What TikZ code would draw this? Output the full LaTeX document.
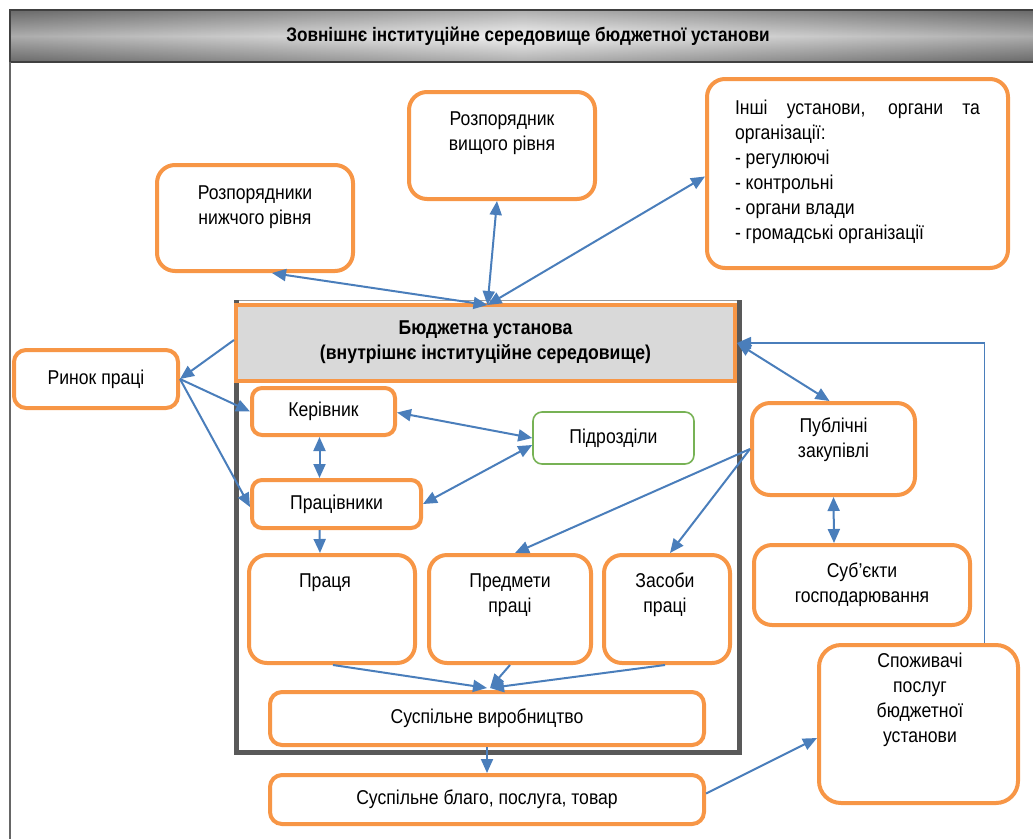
\documentclass[tikz,border=0pt]{standalone}
\usepackage{fontspec}
\setmainfont{Liberation Sans}[FakeStretch=0.88]
\usetikzlibrary{arrows.meta,calc}
\definecolor{orng}{HTML}{F79646}
\definecolor{blu}{HTML}{4A7EBB}
\definecolor{grn}{HTML}{77B255}
\definecolor{hdrfill}{HTML}{D9D9D9}
\definecolor{frm}{HTML}{595959}
\definecolor{ttl}{HTML}{404040}
\begin{document}
\begin{tikzpicture}[x=1pt,y=-1pt,
  font=\fontsize{20}{25}\selectfont,
  obox/.style={draw=orng, line width=4pt, rounded corners=#1, fill=white, inner sep=0pt, align=center},
  obox/.default=18pt,
  gbox/.style={draw=grn, line width=1.6pt, rounded corners=9pt, fill=white, inner sep=0pt},
  txt/.style={align=center, inner sep=0pt},
  conn/.style={draw=blu, line width=2pt},
  arr/.style={conn, -{Triangle[length=14pt,width=12pt]}},
  darr/.style={conn, {Triangle[length=14pt,width=12pt]}-{Triangle[length=14pt,width=12pt]}},
  sarr/.style={draw=blu, line width=1.4pt, -{Triangle[length=14pt,width=12pt]}}
]
\useasboundingbox (0,0) rectangle (1033,839);
% title bar
\shade[left color=black!50, right color=black!50, middle color=black!8] (10,10) rectangle (1033,62);
\shade[top color=black!75, bottom color=black!75, middle color=white, opacity=0.35] (10,10) rectangle (1033,62);
\draw[ttl, line width=2pt] (1033,10) -- (10,10) -- (10,62) -- (1033,62);
\draw[black!60, line width=1.4pt] (10,62) -- (10,839);
\node[txt, font=\bfseries\fontsize{19.5}{23}\selectfont] (title) at (528,36) {Зовнішнє інституційне середовище бюджетної установи};

% inner frame of the institution
\draw[black!40, line width=1pt] (236,300) -- (739,300);
\draw[frm, line width=5pt] (236,300) -- (236,752) -- (739,752) -- (739,300);

% boxes
\node[obox, minimum width=196pt, minimum height=106pt] (nyzh) at (255,218) {};
\node[txt] (nyzhT) at (255,207) {Розпорядники\\нижчого рівня};
\node[obox, minimum width=186pt, minimum height=107pt] (vyshch) at (502,145.5) {};
\node[txt] (vyshchT) at (502,133) {Розпорядник\\вищого рівня};
\node[obox, minimum width=301pt, minimum height=189pt] (inshi) at (857.5,173.5) {};
\node[inner sep=0pt, text width=245pt, align=justify] (inshiT) at (857.5,172) {Інші установи, органи та організації:\\- регулюючі\\- контрольні\\- органи влади\\- громадські організації};

\node[draw=orng, line width=4pt, fill=hdrfill, minimum width=499pt, minimum height=76pt, inner sep=0pt] (bu) at (485.5,343) {};
\node[txt, font=\bfseries\fontsize{20}{25}\selectfont] (buT) at (485.5,342) {Бюджетна установа\\(внутрішнє інституційне середовище)};

\node[obox=12pt, minimum width=164pt, minimum height=58pt] (rynok) at (96,379) {Ринок праці};
\node[obox=10pt, minimum width=143pt, minimum height=47pt] (keriv) at (323.5,411.5) {Керівник};
\node[gbox, minimum width=161pt, minimum height=52pt] (pidr) at (613.5,438) {Підрозділи};
\node[obox=10pt, minimum width=169pt, minimum height=48pt] (praciv) at (336.5,504) {Працівники};

\node[obox, minimum width=166pt, minimum height=108pt] (pracia) at (332,609) {};
\node[txt] (praciaT) at (325,583) {Праця};
\node[obox, minimum width=162pt, minimum height=108pt] (predm) at (510,609) {};
\node[txt] (predmT) at (510,595) {Предмети\\праці};
\node[obox, minimum width=126pt, minimum height=108pt] (zasob) at (667,609) {};
\node[txt] (zasobT) at (665,595) {Засоби\\праці};

\node[obox=12pt, minimum width=434pt, minimum height=53pt] (vyrob) at (487,718.5) {Суспільне виробництво};
\node[obox=12pt, minimum width=434pt, minimum height=49pt] (blaho) at (487,799.5) {Суспільне благо, послуга, товар};

\node[obox, minimum width=163pt, minimum height=92pt] (publ) at (833.5,449) {};
\node[txt] (publT) at (833.5,440) {Публічні\\закупівлі};
\node[obox, minimum width=216pt, minimum height=80pt] (subj) at (862,585) {Суб’єкти\\господарювання};
\node[obox=22pt, minimum width=199pt, minimum height=158pt] (spozh) at (918.5,724) {};
\node[txt] (spozhT) at (920,700) {Споживачі\\послуг\\бюджетної\\установи};

% connectors
\coordinate (hub) at ($(bu.north)+(2,2)$);
\draw[darr] ([xshift=17pt]nyzh.south) -- (hub);
\draw[darr] ([xshift=-5pt]vyshch.south) -- (hub);
\draw[darr] ([yshift=-3pt]inshi.west) -- (hub);
\draw[arr] ([yshift=3pt]bu.west) -- (rynok.east);
\draw[arr] (rynok.east) -- (keriv.west);
\draw[arr] (rynok.east) -- ([yshift=-3pt]praciv.west);
\draw[darr] ([xshift=-4pt]keriv.south) -- ([xshift=-17pt]praciv.north);
\draw[darr] ([yshift=-1pt]keriv.east) -- (pidr.west);
\draw[darr] ([yshift=-7pt]pidr.west) -- (praciv.east);
\draw[arr] ([xshift=-17pt]praciv.south) -- ([xshift=-12pt]pracia.north);
\draw[arr] (publ.west) -- ([xshift=5pt]predm.north);
\draw[arr] (publ.west) -- ([xshift=3pt]zasob.north);
\draw[darr] (bu.east) -- ([xshift=-4pt]publ.north);
\draw[darr] (publ.south) -- ([xshift=-28pt]subj.north);
\draw[arr] ([xshift=1pt]pracia.south) -- ($(vyrob.north)+(0,-2)$);
\draw[arr] (predm.south) -- ($(vyrob.north)+(3,-2)$);
\draw[arr] ([xshift=-2pt]zasob.south) -- ($(vyrob.north)+(3,-2)$);
\draw[arr] (vyrob.south) -- (blaho.north);
\draw[arr] ([yshift=6pt]blaho.east) -- ([yshift=-14pt]spozh.west);
\draw[sarr] ([xshift=66pt]spozh.north) |- (bu.east);
\end{tikzpicture}
\end{document}
